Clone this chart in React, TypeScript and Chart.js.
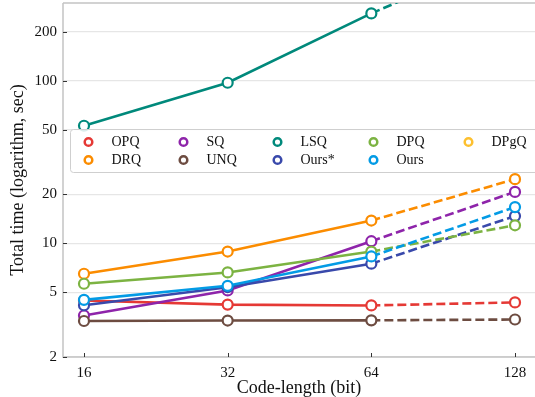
import React, { useEffect, useRef } from "react";
import { Chart, registerables } from "chart.js";

Chart.register(...registerables);

// ---- data ----
const codeLengths = [16, 32, 64, 128];
const xPositions = [4, 5, 6, 7]; // log2 of code length
const opq = [4.45, 4.2, 4.15, 4.33];
const drq = [6.5, 8.9, 13.8, 24.8];
const sq = [3.6, 5.13, 10.3, 20.7];
const unq = [3.33, 3.35, 3.36, 3.4];
const lsq = [52.8, 97, 259, 620];
const oursStar = [4.16, 5.37, 7.49, 14.7];
const dpq = [5.64, 6.62, 8.9, 12.9];
const ours = [4.49, 5.48, 8.3, 16.7];
const dpgq: (number | null)[] = [null, null, null, null];
const yTickValues = [2, 5, 10, 20, 50, 100, 200];

// plotting order (later drawn on top)
const seriesNames = ["OPQ", "DRQ", "SQ", "UNQ", "LSQ", "Ours*", "DPQ", "Ours", "DPgQ"];
const seriesData = [opq, drq, sq, unq, lsq, oursStar, dpq, ours, dpgq];
const seriesColors = [
  "#e53935",
  "#fb8c00",
  "#8e24aa",
  "#6d4c41",
  "#00897b",
  "#3949ab",
  "#7cb342",
  "#039be5",
  "#fdc02f",
];

const FONT = "'Liberation Serif', 'Times New Roman', serif";

const decorPlugin = {
  id: "decor",
  beforeDatasetsDraw(chart: any) {
    const { ctx, chartArea } = chart;
    const { left, right, top, bottom } = chartArea;
    ctx.save();
    // spines
    ctx.strokeStyle = "#c4c4c4";
    ctx.lineWidth = 1.5;
    ctx.beginPath();
    ctx.moveTo(left, top);
    ctx.lineTo(right, top);
    ctx.moveTo(left, top);
    ctx.lineTo(left, bottom);
    ctx.lineTo(right, bottom);
    ctx.stroke();
    // inward ticks
    ctx.strokeStyle = "#333";
    ctx.lineWidth = 1;
    const ys = chart.scales.y;
    yTickValues.forEach((v) => {
      const py = Math.round(ys.getPixelForValue(v)) + 0.5;
      ctx.beginPath();
      ctx.moveTo(left, py);
      ctx.lineTo(left + 4, py);
      ctx.stroke();
    });
    const xs = chart.scales.x;
    xPositions.forEach((v) => {
      const px = Math.round(xs.getPixelForValue(v)) + 0.5;
      ctx.beginPath();
      ctx.moveTo(px, bottom);
      ctx.lineTo(px, bottom - 4);
      ctx.stroke();
    });
    ctx.restore();
  },
  afterDraw(chart: any) {
    const { ctx } = chart;
    ctx.save();
    // axis titles
    ctx.fillStyle = "#111";
    ctx.font = `18px ${FONT}`;
    ctx.textAlign = "center";
    ctx.textBaseline = "middle";
    ctx.fillText("Code-length (bit)", 299, 388);
    ctx.save();
    ctx.translate(18, 180);
    ctx.rotate(-Math.PI / 2);
    ctx.fillText("Total time (logarithm, sec)", 0, 0);
    ctx.restore();

    // legend
    const bx = 70, by = 129.5, bw = 480, bh = 43;
    ctx.fillStyle = "rgba(255,255,255,0.85)";
    ctx.strokeStyle = "#cfcfcf";
    ctx.lineWidth = 1;
    ctx.beginPath();
    (ctx as any).roundRect(bx + 0.5, by, bw, bh, 3);
    ctx.fill();
    ctx.stroke();

    const colX = [88.5, 183.5, 277.5, 373.5, 468.5];
    const rowY = [142, 160];
    ctx.font = `14px ${FONT}`;
    ctx.textAlign = "left";
    ctx.textBaseline = "middle";
    seriesNames.forEach((name, i) => {
      const col = Math.floor(i / 2);
      const row = i % 2;
      const cx = colX[col];
      const cy = rowY[row];
      ctx.beginPath();
      ctx.arc(cx, cy, 3.8, 0, Math.PI * 2);
      ctx.fillStyle = "#fff";
      ctx.fill();
      ctx.strokeStyle = seriesColors[i];
      ctx.lineWidth = 2.5;
      ctx.stroke();
      ctx.fillStyle = "#111";
      ctx.fillText(name, cx + 23, cy + 0.5);
    });
    ctx.restore();
  },
};

export default function App() {
  const canvasRef = useRef<HTMLCanvasElement | null>(null);

  useEffect(() => {
    document.body.style.margin = "0";
    const canvas = canvasRef.current;
    if (!canvas) return;

    const datasets = seriesNames.map((name, i) => ({
      label: name,
      data: xPositions.map((x, j) => ({ x, y: seriesData[i][j] })),
      borderColor: seriesColors[i],
      backgroundColor: seriesColors[i],
      borderWidth: 2.6,
      pointRadius: 5,
      pointHoverRadius: 5,
      pointBorderWidth: 2.2,
      pointBackgroundColor: "#ffffff",
      pointBorderColor: seriesColors[i],
      tension: 0,
      spanGaps: false,
      order: seriesNames.length - i,
      segment: {
        borderDash: (c: any) => (c.p0DataIndex >= 2 ? [9, 4] : undefined),
      },
    }));

    const chart = new Chart(canvas, {
      type: "line",
      data: { datasets },
      options: {
        animation: false,
        responsive: false,
        maintainAspectRatio: false,
        devicePixelRatio: 1,
        layout: { autoPadding: false, padding: { top: 3, right: 0, left: 0, bottom: 0 } },
        plugins: {
          legend: { display: false },
          tooltip: { enabled: false },
        },
        scales: {
          x: {
            type: "linear",
            min: 4 - 21 / 143.7,
            max: 7 + 20 / 143.7,
            grid: { display: false, drawTicks: false },
            border: { display: false },
            afterBuildTicks: (scale: any) => {
              scale.ticks = xPositions.map((v) => ({ value: v }));
            },
            afterFit: (scale: any) => {
              scale.height = 40;
              scale.paddingLeft = 0;
              scale.paddingRight = 0;
              scale.paddingTop = 0;
              scale.paddingBottom = 0;
            },
            ticks: {
              padding: 7,
              color: "#111",
              font: { family: FONT, size: 15 },
              callback: (v: any) => {
                const idx = xPositions.indexOf(Number(v));
                return idx >= 0 ? String(codeLengths[idx]) : "";
              },
            },
          },
          y: {
            type: "logarithmic",
            min: 2,
            max: 300,
            grid: { color: "#e6e6e6", lineWidth: 1.2, drawTicks: false },
            border: { display: false },
            afterBuildTicks: (scale: any) => {
              scale.ticks = yTickValues.map((v) => ({ value: v }));
            },
            afterFit: (scale: any) => {
              scale.width = 63;
              scale.paddingLeft = 0;
              scale.paddingRight = 0;
              scale.paddingTop = 0;
              scale.paddingBottom = 0;
            },
            ticks: {
              padding: 6,
              color: "#111",
              font: { family: FONT, size: 15 },
              callback: (v: any) => String(v),
            },
          },
        },
      },
      plugins: [decorPlugin],
    });

    return () => chart.destroy();
  }, []);

  return (
    <div style={{ position: "fixed", left: 0, top: 0, width: 535, height: 397, background: "#fff" }}>
      <canvas ref={canvasRef} width={535} height={397} style={{ width: 535, height: 397 }} />
    </div>
  );
}
